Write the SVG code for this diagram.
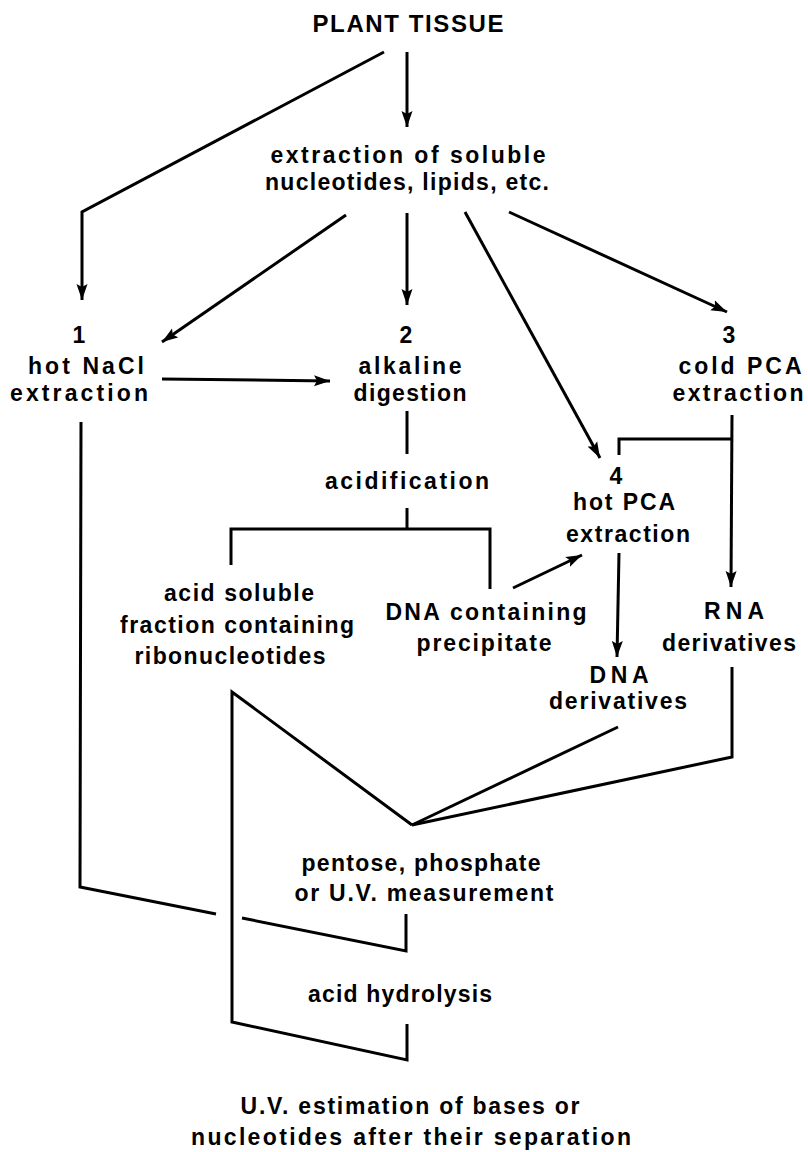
<svg xmlns="http://www.w3.org/2000/svg" width="808" height="1152" viewBox="0 0 808 1152">
<style>
text{font-family:"Liberation Sans",Arial,sans-serif;font-size:23px;font-weight:bold;fill:#000;text-anchor:middle}
.t{font-size:24px}
.c{fill:none;stroke:#000;stroke-width:3;stroke-linejoin:miter}
</style>
<defs>
<marker id="ah" markerUnits="userSpaceOnUse" markerWidth="18" markerHeight="12" refX="16" refY="6" orient="auto">
<path d="M0,0.5 L16,6 L0,11.5 L3,6 z" fill="#000"/>
</marker>
</defs>
<rect width="808" height="1152" fill="#fff"/>
<g id="connectors">
<polyline class="c" points="384,52 82,212 82,300" marker-end="url(#ah)"/>
<line class="c" x1="407" y1="52" x2="407" y2="127" marker-end="url(#ah)"/>
<line class="c" x1="346" y1="215" x2="162" y2="342" marker-end="url(#ah)"/>
<line class="c" x1="407" y1="213" x2="407" y2="305" marker-end="url(#ah)"/>
<line class="c" x1="465" y1="212" x2="600" y2="458" marker-end="url(#ah)"/>
<line class="c" x1="509" y1="212" x2="727" y2="312" marker-end="url(#ah)"/>
<line class="c" x1="162" y1="379" x2="330" y2="381" marker-end="url(#ah)"/>
<polyline class="c" points="81,422 80,887 216,914"/>
<polyline class="c" points="242,918 406,951 406,914"/>
<line class="c" x1="407" y1="411" x2="407" y2="454"/>
<line class="c" x1="407" y1="508" x2="407" y2="529"/>
<polyline class="c" points="231,565 231,529 490,529 490,589"/>
<line class="c" x1="513" y1="588" x2="582" y2="555" marker-end="url(#ah)"/>
<line class="c" x1="732" y1="415" x2="731" y2="587" marker-end="url(#ah)"/>
<polyline class="c" points="732,439 619,439 619,455"/>
<line class="c" x1="619" y1="553" x2="617" y2="657" marker-end="url(#ah)"/>
<line class="c" x1="618" y1="727" x2="412" y2="825"/>
<polyline class="c" points="732,667 732,757 412,825"/>
<polyline class="c" points="412,825 232,692 232,1022 407,1060 407,1024"/>
</g>
<g id="plant-tissue"><text class="t" x="408" y="32" textLength="191" lengthAdjust="spacing">PLANT TISSUE</text></g>
<g id="extraction-soluble"><text x="408" y="163" textLength="275" lengthAdjust="spacing">extraction of soluble</text><text x="407" y="190" textLength="284" lengthAdjust="spacing">nucleotides, lipids, etc.</text></g>
<g id="step1"><text x="79" y="343">1</text><text x="86" y="374" textLength="116" lengthAdjust="spacing">hot NaCl</text><text x="79" y="401" textLength="138" lengthAdjust="spacing">extraction</text></g>
<g id="step2"><text x="406" y="343">2</text><text x="410" y="374" textLength="103" lengthAdjust="spacing">alkaline</text><text x="410" y="401" textLength="113" lengthAdjust="spacing">digestion</text></g>
<g id="step3"><text x="729" y="343">3</text><text x="740" y="374" textLength="123" lengthAdjust="spacing">cold PCA</text><text x="738" y="401" textLength="131" lengthAdjust="spacing">extraction</text></g>
<g id="acidification"><text x="407" y="489" textLength="164" lengthAdjust="spacing">acidification</text></g>
<g id="step4"><text x="616" y="484">4</text><text x="624" y="510" textLength="102" lengthAdjust="spacing">hot PCA</text><text x="628" y="542" textLength="124" lengthAdjust="spacing">extraction</text></g>
<g id="acid-soluble"><text x="239" y="601" textLength="150" lengthAdjust="spacing">acid soluble</text><text x="237" y="633" textLength="234" lengthAdjust="spacing">fraction containing</text><text x="230" y="664" textLength="191" lengthAdjust="spacing">ribonucleotides</text></g>
<g id="dna-precipitate"><text x="486" y="620" textLength="201" lengthAdjust="spacing">DNA containing</text><text x="484" y="651" textLength="135" lengthAdjust="spacing">precipitate</text></g>
<g id="rna-derivatives"><text x="734" y="619" textLength="60" lengthAdjust="spacing">RNA</text><text x="729" y="651" textLength="134" lengthAdjust="spacing">derivatives</text></g>
<g id="dna-derivatives"><text x="619" y="683" textLength="59" lengthAdjust="spacing">DNA</text><text x="618" y="709" textLength="138" lengthAdjust="spacing">derivatives</text></g>
<g id="measurement"><text x="421" y="871" textLength="239" lengthAdjust="spacing">pentose, phosphate</text><text x="424" y="901" textLength="259" lengthAdjust="spacing">or  U.V. measurement</text></g>
<g id="acid-hydrolysis"><text x="400" y="1002" textLength="184" lengthAdjust="spacing">acid hydrolysis</text></g>
<g id="uv-estimation"><text x="410" y="1114" textLength="339" lengthAdjust="spacing">U.V. estimation of bases or</text><text x="411" y="1145" textLength="440" lengthAdjust="spacing">nucleotides after their separation</text></g>
</svg>
